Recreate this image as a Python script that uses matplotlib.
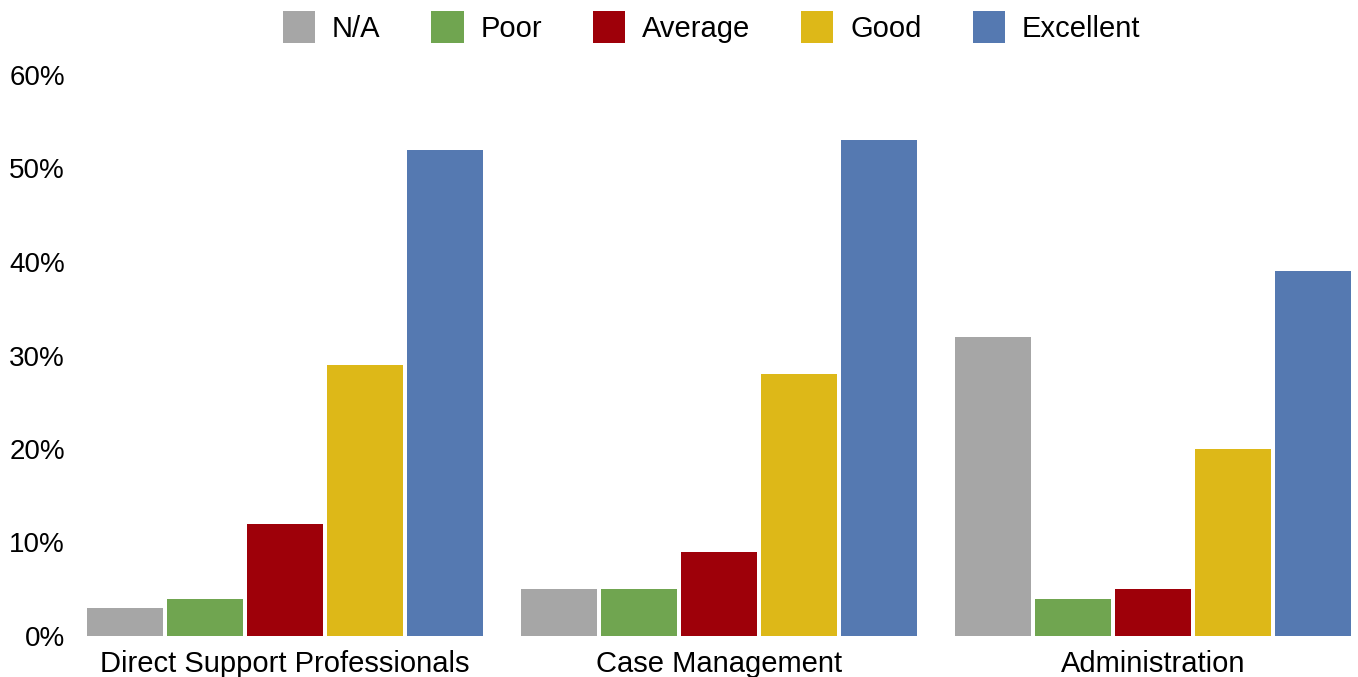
import numpy as np
import matplotlib
matplotlib.use('Agg')
import matplotlib.pyplot as plt
from matplotlib.ticker import FuncFormatter

plt.rcParams['font.family'] = ['Liberation Sans', 'DejaVu Sans']

categories = ['Direct Support Professionals', 'Case Management', 'Administration']
ratings = ['N/A', 'Poor', 'Average', 'Good', 'Excellent']
na_vals = [3, 5, 32]
poor_vals = [4, 5, 4]
average_vals = [12, 9, 5]
good_vals = [29, 28, 20]
excellent_vals = [52, 53, 39]
yticks = [0, 10, 20, 30, 40, 50, 60]

series = [na_vals, poor_vals, average_vals, good_vals, excellent_vals]
colors = ['#A6A6A6', '#70A550', '#9E0009', '#DDB818', '#5579B1']

W, H = 1358, 677
fig = plt.figure(figsize=(W / 100, H / 100), dpi=100)
ax = fig.add_axes([87 / W, (H - 636) / H, (1351 - 87) / W, (636 - 75) / H])

# five bars per group, small white gap between neighbours
x = np.arange(len(categories))
slot = 0.184
width = 0.175
for i, (vals, c, lab) in enumerate(zip(series, colors, ratings)):
    ax.bar(x + (i - 2) * slot, vals, width, color=c, label=lab)

ax.set_xlim(-2 * slot - width / 2, 2 + 2 * slot + width / 2)
ax.set_ylim(0, 60)
ax.set_yticks(yticks)
ax.yaxis.set_major_formatter(FuncFormatter(lambda v, p: f'{v:.0f}%'))
ax.set_xticks(x)
ax.set_xticklabels(categories, fontsize=21)
ax.tick_params(axis='y', labelsize=20, length=0, pad=16)
ax.tick_params(axis='x', length=0, pad=10)
for s in ax.spines.values():
    s.set_visible(False)

fig.legend(loc='center', bbox_to_anchor=(0.524, 1 - 27 / H), ncol=5, frameon=False,
           fontsize=21, handlelength=1.1, handleheight=1.3, handletextpad=0.58,
           columnspacing=1.75)

fig.savefig('out.png', dpi=100)
